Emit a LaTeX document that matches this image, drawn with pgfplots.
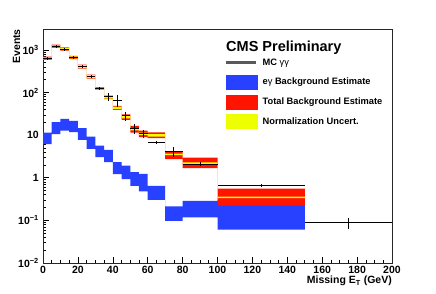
\documentclass[border=0pt]{standalone}
\usepackage{fontspec}
\setmainfont{Liberation Sans}
\usepackage{pgfplots}
\pgfplotsset{compat=1.18}

\definecolor{bkgblue}{RGB}{40,64,255}
\definecolor{bkgred}{RGB}{255,20,0}
\definecolor{normyel}{RGB}{238,255,0}

\begin{document}
\begin{tikzpicture}
\path[use as bounding box] (0,0) rectangle (436pt,293pt);
\begin{axis}[
  at={(43pt,30pt)}, anchor=south west,
  scale only axis, width=349pt, height=234pt,
  xmin=0, xmax=200, ymode=log, ymin=0.01, ymax=3100,
  xtick={0,20,...,200}, minor x tick num=3,
  ytick={0.01,0.1,1,10,100,1000},
  yticklabels={10\textsuperscript{−2},10\textsuperscript{−1},1,10,10\textsuperscript{2},10\textsuperscript{3}},
  tick align=inside, xtick pos=bottom, ytick pos=left,
  major tick length=6pt, minor tick length=3pt,
  every tick/.style={black, line width=0.6pt},
  axis line style={black!85, line width=0.8pt},
  /pgf/number format/assume math mode=true,
  ticklabel style={font=\bfseries\fontsize{10.5}{12}\selectfont},
  xticklabel style={inner sep=0pt, yshift=-3.0pt, anchor=north},
  yticklabel style={inner sep=0pt, xshift=-4pt, anchor=east},
  xlabel={Missing E\textsubscript{T} (GeV)},
  xlabel style={at={(axis description cs:1,-0.0897)}, anchor=base east, inner sep=0pt, font=\bfseries\fontsize{10.5}{12}\selectfont},
  ylabel={Events},
  ylabel style={at={(axis description cs:-0.0659,1)}, anchor=base east, inner sep=0pt, font=\bfseries\fontsize{10.5}{12}\selectfont},
  legend style={at={(0.5244,0.8876)}, anchor=north west, draw=none, fill=none, inner sep=0pt, row sep=5.3pt, column sep=5pt, font=\bfseries\fontsize{9.3}{11}\selectfont, nodes={inner sep=0pt}},
  legend cell align=left,
]
\addlegendimage{legend image code/.code={\fill[black!65] (0pt,-0.9pt) rectangle (29pt,0.9pt); \path[draw=none, fill=none] (0pt,-7pt) rectangle (31pt,7pt);}}
\addlegendentry{MC {\mdseries γγ}}
\addlegendimage{legend image code/.code={\fill[bkgblue] (0pt,-7pt) rectangle (31pt,7pt);}}
\addlegendentry{e{\mdseries γ} Background Estimate}
\addlegendimage{legend image code/.code={\fill[bkgred] (0pt,-7pt) rectangle (31pt,7pt);}}
\addlegendentry{Total Background Estimate}
\addlegendimage{legend image code/.code={\fill[normyel] (0pt,-7pt) rectangle (31pt,7pt);}}
\addlegendentry{Normalization Uncert.}

% e-gamma background estimate: band (upper edge left to right, lower edge right to left)
\addplot[fill=bkgblue, draw=none, forget plot] coordinates {
(0,11.5)(5,11.5)(5,20.2)(10,20.2)(10,24.2)(15,24.2)(15,21.7)(20,21.7)(20,14.6)(25,14.6)
(25,9.3)(30,9.3)(30,5.7)(35,5.7)(35,4.5)(40,4.5)(40,2.33)(45,2.33)(45,1.94)(50,1.94)
(50,1.36)(55,1.36)(55,1.24)(60,1.24)(60,0.65)(70,0.65)(70,0.213)(80,0.213)(80,0.289)(100,0.289)
(100,0.305)(150,0.305)
(150,0.0605)(100,0.0605)(100,0.117)(80,0.117)(80,0.098)(70,0.098)(70,0.305)(60,0.305)
(60,0.48)(55,0.48)(55,0.65)(50,0.65)(50,0.93)(45,0.93)(45,1.22)(40,1.22)(40,2.33)(35,2.33)
(35,3.05)(30,3.05)(30,4.8)(25,4.8)(25,7.8)(20,7.8)(20,11.8)(15,11.8)(15,12.8)(10,12.8)
(10,10.6)(5,10.6)(5,6.2)(0,6.2)
} -- cycle;

% total background estimate
\addplot[fill=bkgred, draw=none, forget plot] coordinates {
(0,696)(5,696)(5,1330)(10,1330)(10,1150)(15,1150)(15,727)(20,727)(20,452)(25,452)
(25,264)(30,264)(30,134)(35,134)(35,84.9)(40,84.9)(40,48.8)(45,48.8)(45,30.9)(50,30.9)
(50,16.5)(55,16.5)(55,12.8)(60,12.8)(60,11.6)(70,11.6)(70,4.0)(80,4.0)(80,2.97)(100,2.97)
(100,0.555)(150,0.555)
(150,0.221)(100,0.221)(100,1.68)(80,1.68)(80,2.75)(70,2.75)(70,8.5)(60,8.5)
(60,8.95)(55,8.95)(55,11.55)(50,11.55)(50,22.9)(45,22.9)(45,39.3)(40,39.3)(40,69.9)(35,69.9)
(35,115)(30,115)(30,213)(25,213)(25,364)(20,364)(20,612)(15,612)(15,968)(10,968)
(10,1119)(5,1119)(5,585)(0,585)
} -- cycle;

% normalization uncertainty
\addplot[fill=normyel, draw=none, forget plot] coordinates {
(0,673)(5,673)(5,1288)(10,1288)(10,1113)(15,1113)(15,704)(20,704)(20,443)(25,443)
(25,257)(30,257)(30,131)(35,131)(35,82.2)(40,82.2)(40,46.7)(45,46.7)(45,28.4)(50,28.4)
(50,14.7)(55,14.7)(55,11.4)(60,11.4)(60,10.56)(70,10.56)(70,3.71)(80,3.71)(80,2.30)(100,2.30)
(100,0.361)(150,0.361)
(150,0.331)(100,0.331)(100,2.11)(80,2.11)(80,3.40)(70,3.40)(70,9.28)(60,9.28)
(60,10.0)(55,10.0)(55,12.9)(50,12.9)(50,24.9)(45,24.9)(45,41.1)(40,41.1)(40,72.2)(35,72.2)
(35,117.5)(30,117.5)(30,219)(25,219)(25,372)(20,372)(20,632)(15,632)(15,1000)(10,1000)
(10,1156)(5,1156)(5,604)(0,604)
} -- cycle;

% MC gamma gamma
\addplot[black, only marks, mark options={draw opacity=0, fill opacity=0}, forget plot,
  error bars/.cd, x dir=both, x explicit, y dir=both, y explicit,
  error mark=none, error bar style={draw=black, line width=0.9pt}]
  table[x=x, y=y, x error=ex, y error plus=eyp, y error minus=eym] {
x y ex eyp eym
2.5 630 2.5 50 50
7.5 1200 2.5 95 95
12.5 1050 2.5 85 85
17.5 660 2.5 55 55
22.5 410 2.5 35 35
27.5 235 2.5 20 20
32.5 124 2.5 12 12
37.5 80 2.5 16 17
42.5 66 2.5 22 19
47.5 28.4 2.5 6.2 6.4
52.5 14.6 2.5 3.8 3.8
57.5 11.1 2.5 2.2 2.6
65 6.7 5 0.5 0.5
75 4.1 5 1.2 1.0
90 2.1 10 0.2 0.2
125 0.66 25 0.05 0.05
175 0.091 25 0.022 0.029
};

\node[anchor=base west, inner sep=0pt, font=\bfseries\fontsize{14.5}{17}\selectfont] at (axis description cs:0.5244,0.9038) {CMS Preliminary};
\end{axis}
\end{tikzpicture}
\end{document}
